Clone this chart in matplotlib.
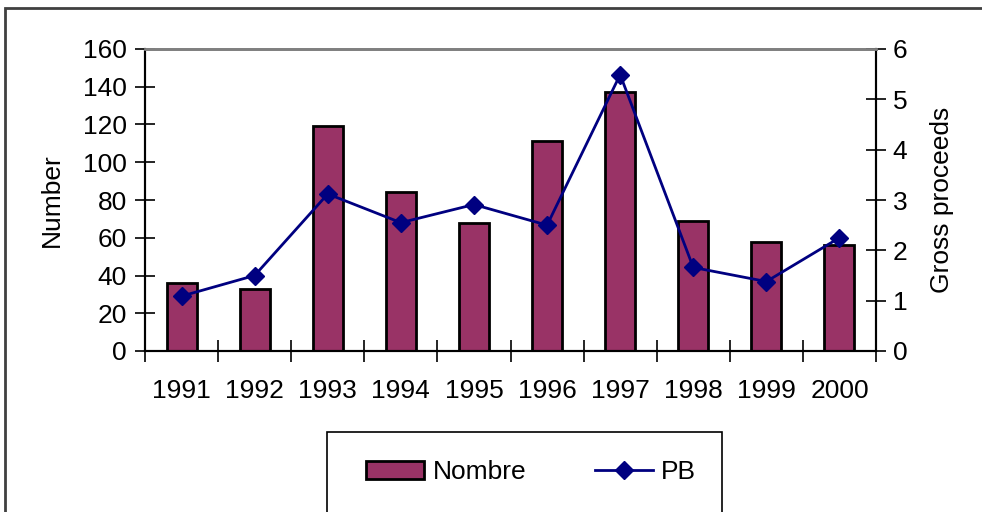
import matplotlib.pyplot as plt
from matplotlib.patches import Rectangle
from matplotlib.lines import Line2D

plt.rcParams['font.family'] = ['Liberation Sans', 'DejaVu Sans']

years = ['1991', '1992', '1993', '1994', '1995', '1996', '1997', '1998', '1999', '2000']
nombre = [36, 33, 119, 84, 68, 111, 137, 69, 58, 56]
pb = [1.09, 1.50, 3.12, 2.55, 2.91, 2.50, 5.49, 1.66, 1.38, 2.25]

fs = 19
fig = plt.figure(figsize=(9.82, 5.12), dpi=100)
ax = fig.add_axes([145 / 982, 1 - 351 / 512, 731 / 982, 302 / 512])
ax2 = ax.twinx()

x = list(range(len(years)))
ax.bar(x, nombre, width=0.41, color='#993366', edgecolor='black', linewidth=2, zorder=2)
ax2.plot(x, pb, color='#000080', linewidth=2, marker='D', markersize=9, zorder=3)

ax.set_xlim(-0.5, len(years) - 0.5)
ax.set_ylim(0, 160)
ax2.set_ylim(0, 6)
ax.set_yticks(range(0, 161, 20))
ax2.set_yticks(range(0, 7))

ax.set_xticks(x)
ax.set_xticklabels(years, fontsize=fs)
ax.tick_params(axis='x', length=0, pad=20)
ax.set_xticks([i - 0.5 for i in range(len(years) + 1)], minor=True)
ax.tick_params(axis='x', which='minor', direction='inout', length=16, width=1.2)
ax.tick_params(axis='y', direction='inout', length=14, width=1.2, labelsize=fs, pad=6)
ax2.tick_params(axis='y', direction='inout', length=14, width=1.2, labelsize=fs, pad=5)

ax.set_ylabel('Number', fontsize=fs, labelpad=14)
ax2.set_ylabel('Gross proceeds', fontsize=fs, labelpad=16)

for a in (ax, ax2):
    a.spines['top'].set_color('#808080')
    a.spines['top'].set_linewidth(2)
    a.spines['left'].set_linewidth(1.5)
    a.spines['right'].set_linewidth(1.5)
    a.spines['bottom'].set_linewidth(1.5)
ax2.set_zorder(ax.get_zorder() + 1)
ax2.patch.set_visible(False)

# outer chart frame
fig.patches.append(Rectangle((5 / 982, -0.1), 1.2, 1 - 8 / 512 + 0.1,
                             transform=fig.transFigure, fill=False,
                             edgecolor='#404040', linewidth=2))
# legend box
fig.patches.append(Rectangle((327 / 982, -0.1), (722 - 327) / 982, 1 - 432 / 512 + 0.1,
                             transform=fig.transFigure, fill=False,
                             edgecolor='black', linewidth=1.2))

handles = [Rectangle((0, 0), 1, 1, facecolor='#993366', edgecolor='black', linewidth=2),
           Line2D([], [], color='#000080', linewidth=2, marker='D', markersize=9)]
fig.legend(handles, ['Nombre', 'PB'], loc='center', bbox_to_anchor=(531 / 982, 1 - 472 / 512),
           ncol=2, frameon=False, fontsize=fs, handlelength=2.2, handletextpad=0.3,
           columnspacing=2.6)

fig.savefig('out.png', dpi=100)
